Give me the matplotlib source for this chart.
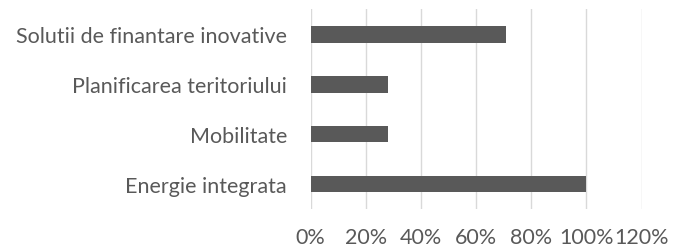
from matplotlib import pyplot as plt
from matplotlib.ticker import PercentFormatter

categories = ["Energie integrata", "Mobilitate", "Planificarea teritoriului",
              "Solutii de finantare inovative"]
values = [1.00, 0.28, 0.28, 0.71]
xticks = [0, 0.2, 0.4, 0.6, 0.8, 1.0, 1.2]

plt.rcParams["font.family"] = ["Lato", "DejaVu Sans"]

fig = plt.figure(figsize=(6.73, 2.53), dpi=100)
ax = fig.add_axes([0.4617, 0.170, 0.4916, 0.7885])

ax.barh(range(len(categories)), values, height=1 / 3, color="#595959", zorder=3)

# labeling / formatting
ax.set_xlim(0, 1.2)
ax.set_ylim(-0.5, 3.5)
ax.set_xticks(xticks)
ax.xaxis.set_major_formatter(PercentFormatter(1.0, decimals=0))
ax.set_yticks(range(len(categories)))
ax.set_yticklabels(categories)
ax.tick_params(axis="both", length=0, labelsize=15.5, labelcolor="#595959")
ax.tick_params(axis="x", pad=13)
ax.tick_params(axis="y", pad=17)
ax.grid(axis="x", color="#d9d9d9", linewidth=1, zorder=0)
for s in ax.spines.values():
    s.set_visible(False)

fig.savefig("out.png", dpi=100)
